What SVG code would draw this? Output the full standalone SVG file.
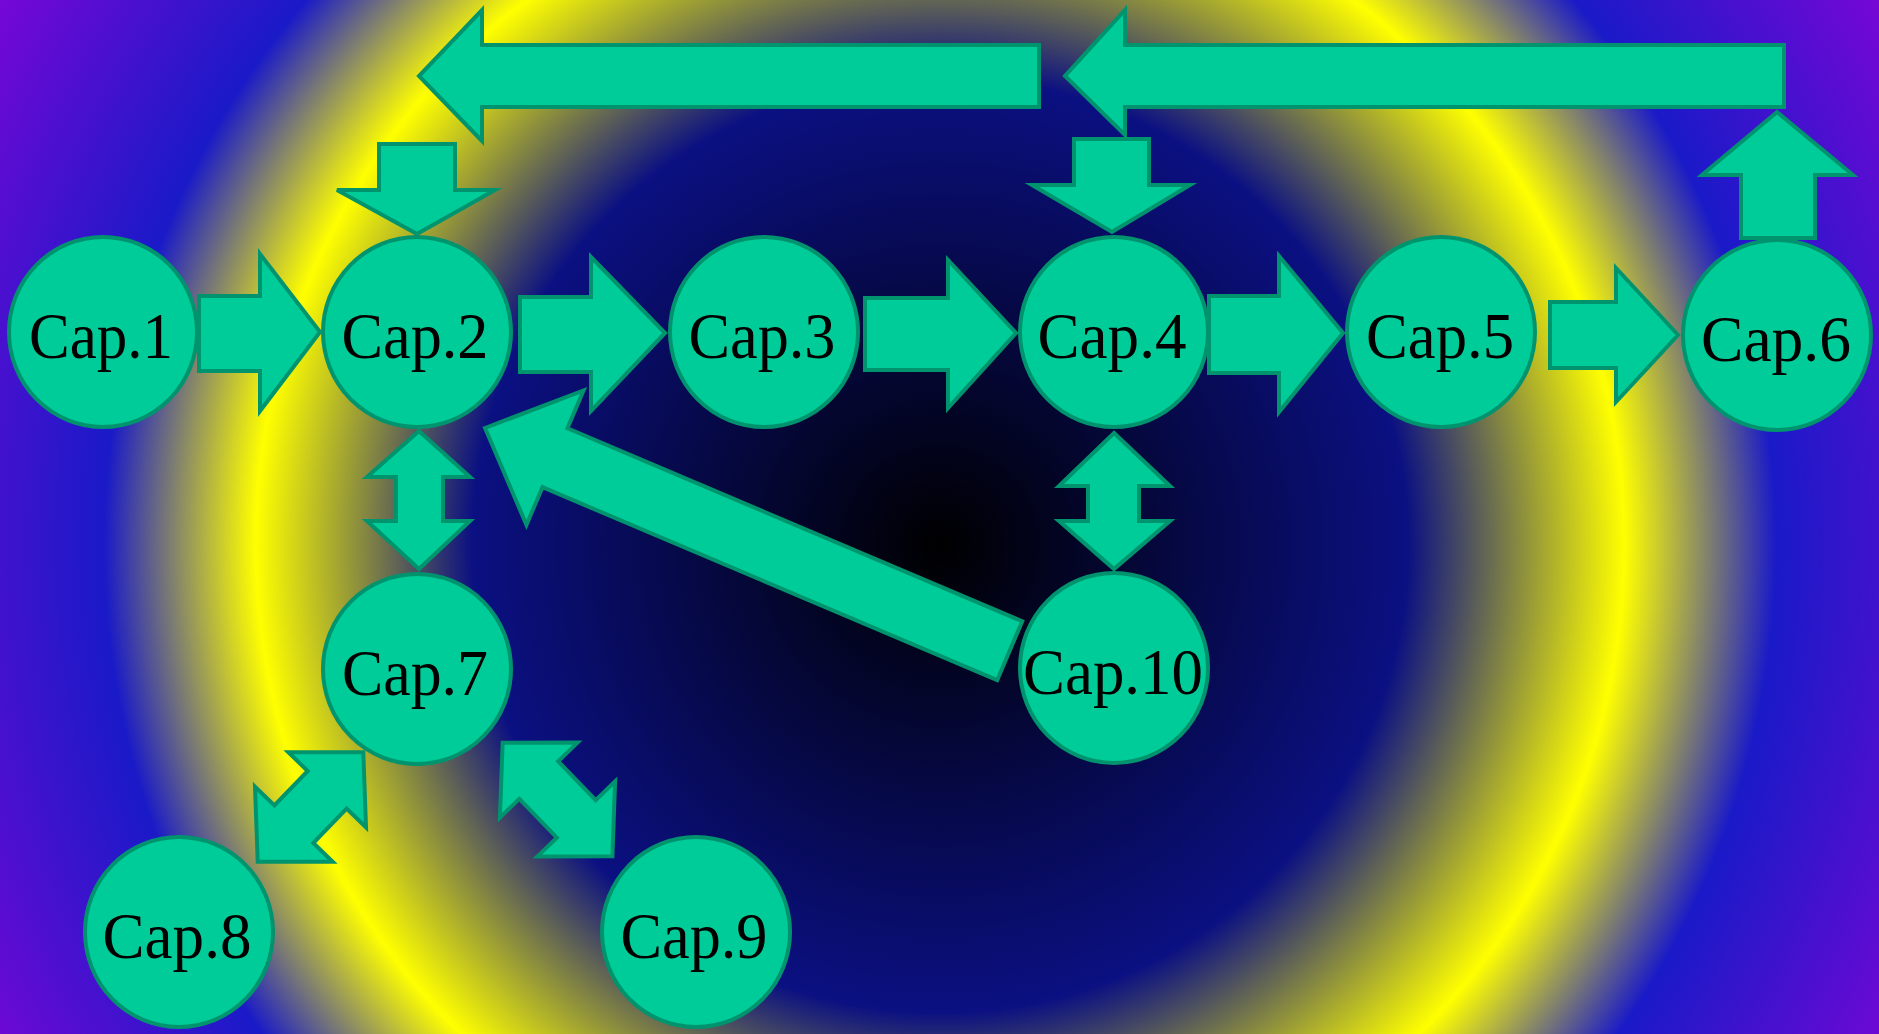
<svg xmlns="http://www.w3.org/2000/svg" width="1879" height="1034" viewBox="0 0 1879 1034">
  <defs>
    <radialGradient id="bg" gradientUnits="userSpaceOnUse" cx="940" cy="545" r="1100">
      <stop offset="0" stop-color="#000000"/>
      <stop offset="0.425" stop-color="#0b1082"/>
      <stop offset="0.622" stop-color="#ffff00"/>
      <stop offset="0.76" stop-color="#1a1ac8"/>
      <stop offset="1" stop-color="#7b06d6"/>
    </radialGradient>
    <style>
      .node ellipse { fill: #00cc99; stroke: #00946e; stroke-width: 4; }
      .node text { font-family: "Liberation Serif", "Times New Roman", serif; font-size: 66px; fill: #000000; text-anchor: middle; }
      #connectors polygon { fill: #00cc99; stroke: #00946e; stroke-width: 4; stroke-linejoin: miter; }
    </style>
  </defs>

  <!-- backdrop -->
  <rect x="0" y="0" width="1879" height="1034" fill="url(#bg)"/>

  <!-- block arrows -->
  <g id="connectors">
    <!-- Cap.1 -> Cap.2 -->
    <polygon points="199,296 260,296 260,254 320,332 260,411 260,371 199,371"/>
    <!-- Cap.2 -> Cap.3 -->
    <polygon points="520,297 591,297 591,257 665,333 591,411 591,372 520,372"/>
    <!-- Cap.3 -> Cap.4 -->
    <polygon points="865,298 948,298 948,260 1016,333 948,408 948,370 865,370"/>
    <!-- Cap.4 -> Cap.5 -->
    <polygon points="1209,296 1279,296 1279,256 1343,333 1279,412 1279,373 1209,373"/>
    <!-- Cap.5 -> Cap.6 -->
    <polygon points="1550,302 1616,302 1616,268 1678,335 1616,402 1616,368 1550,368"/>
    <!-- Cap.6 up to the return bar -->
    <polygon points="1741,238 1741,175 1702,175 1777,112 1853,175 1815,175 1815,238"/>
    <!-- return bar toward Cap.4 -->
    <polygon points="1784,45 1125,45 1125,10 1065,76 1125,135 1125,107 1784,107"/>
    <!-- return bar toward Cap.2 -->
    <polygon points="1039,45 482,45 482,10 419,76 482,141 482,107 1039,107"/>
    <!-- drop into Cap.2 -->
    <polygon points="379,144 455,144 455,190 495,190 417,234 337,190 379,190"/>
    <!-- drop into Cap.4 -->
    <polygon points="1074,139 1149,139 1149,185 1190,185 1112,232 1032,185 1074,185"/>
    <!-- Cap.2 <-> Cap.7 -->
    <polygon points="419,431 470,477 443,477 443,521 470,521 419,569 367,521 396,521 396,477 367,477"/>
    <!-- Cap.4 <-> Cap.10 -->
    <polygon points="1114,433 1170,486 1139,486 1139,521 1170,521 1114,569 1059,521 1088,521 1088,486 1059,486"/>
    <!-- Cap.10 -> Cap.2 -->
    <polygon transform="translate(485,428) rotate(23)" points="0,0 76,-73 76,-32 570,-32 570,32 76,32 76,73"/>
    <!-- Cap.7 <-> Cap.8 -->
    <polygon transform="translate(310.5,807) rotate(-46)" points="76,0 24,54 24,27 -24,27 -24,54 -76,0 -24,-54 -24,-27 24,-27 24,-54"/>
    <!-- Cap.7 <-> Cap.9 -->
    <polygon transform="translate(557.5,799.5) rotate(46)" points="79,0 27,54 27,27 -27,27 -27,54 -79,0 -27,-54 -27,-27 27,-27 27,-54"/>
  </g>

  <!-- nodes -->
  <g id="cap1" class="node"><ellipse cx="103" cy="332" rx="94" ry="95"/><text x="101" y="358" textLength="144" lengthAdjust="spacingAndGlyphs">Cap.1</text></g>
  <g id="cap2" class="node"><ellipse cx="417" cy="332" rx="94" ry="95"/><text x="415" y="358" textLength="147" lengthAdjust="spacingAndGlyphs">Cap.2</text></g>
  <g id="cap3" class="node"><ellipse cx="764" cy="332" rx="94" ry="95"/><text x="762" y="358" textLength="147" lengthAdjust="spacingAndGlyphs">Cap.3</text></g>
  <g id="cap4" class="node"><ellipse cx="1114" cy="332" rx="94" ry="95"/><text x="1112" y="358" textLength="149" lengthAdjust="spacingAndGlyphs">Cap.4</text></g>
  <g id="cap5" class="node"><ellipse cx="1441" cy="332" rx="94" ry="95"/><text x="1440" y="358" textLength="148" lengthAdjust="spacingAndGlyphs">Cap.5</text></g>
  <g id="cap6" class="node"><ellipse cx="1777" cy="335" rx="94" ry="95"/><text x="1776" y="361" textLength="150" lengthAdjust="spacingAndGlyphs">Cap.6</text></g>
  <g id="cap7" class="node"><ellipse cx="417" cy="669" rx="94" ry="95"/><text x="415" y="695" textLength="146" lengthAdjust="spacingAndGlyphs">Cap.7</text></g>
  <g id="cap8" class="node"><ellipse cx="179" cy="932" rx="94" ry="95"/><text x="177" y="958" textLength="149" lengthAdjust="spacingAndGlyphs">Cap.8</text></g>
  <g id="cap9" class="node"><ellipse cx="696" cy="932" rx="94" ry="95"/><text x="694" y="958" textLength="147" lengthAdjust="spacingAndGlyphs">Cap.9</text></g>
  <g id="cap10" class="node"><ellipse cx="1114" cy="668" rx="94" ry="95"/><text x="1113" y="694" textLength="180" lengthAdjust="spacingAndGlyphs">Cap.10</text></g>
</svg>
